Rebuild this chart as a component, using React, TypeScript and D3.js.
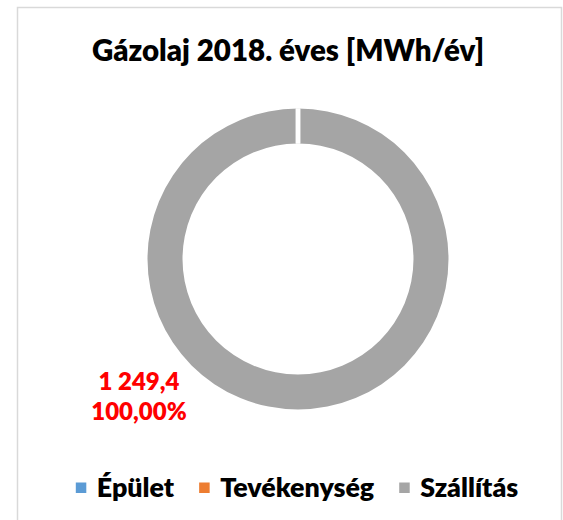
import React from "react";
import * as d3 from "d3";

const title = "Gázolaj 2018. éves [MWh/év]";
const categories = ["Épület", "Tevékenység", "Szállítás"];
const values = [0, 0, 1249.4];
const colors = ["#5b9bd5", "#ed7d31", "#a5a5a5"];
const labelValue = "1 249,4";
const labelPercent = "100,00%";

const W = 563;
const H = 520;
const FONT = "Lato, 'Noto Sans', sans-serif";
const WEIGHT = 800;

function measure(text: string, size: number): number {
  const c = document.createElement("canvas");
  const ctx = c.getContext("2d");
  if (!ctx) return text.length * size * 0.55;
  ctx.font = `${WEIGHT} ${size}px Lato`;
  return ctx.measureText(text).width;
}

export default function App() {
  const cx = 298;
  const cy = 259;
  const outerR = 150.5;
  const innerR = 115.5;

  const pie = d3.pie<number>().sort(null).value((d) => d)(values);
  const arc = d3.arc<d3.PieArcDatum<number>>().innerRadius(innerR).outerRadius(outerR);

  const legendSize = 26.8;
  const sq = 10.5;
  const gapSqText = 10.5;
  const gapItems = 25;
  const widths = categories.map((c) => measure(c, legendSize));
  const total = widths.reduce((a, w) => a + sq + gapSqText + w, 0) + gapItems * (categories.length - 1);
  let lx = 297 - total / 2;
  const legendItems = categories.map((c, i) => {
    const x = lx;
    lx += sq + gapSqText + widths[i] + gapItems;
    return { c, x, color: colors[i] };
  });

  const arcsOrdered = pie.map((p, i) => ({ p, i })).reverse();

  return (
    <svg width={W} height={H} style={{ position: "absolute", left: 0, top: 0 }} fontFamily={FONT}>
      <rect x={0} y={0} width={W} height={H} fill="#ffffff" />
      <rect x={17.5} y={7.5} width={544} height={530} fill="#ffffff" stroke="#d9d9d9" strokeWidth={1.5} />
      <text x={288} y={61} textAnchor="middle" fontSize={29.5} fontWeight={WEIGHT} fill="#000000">
        {title}
      </text>
      <g transform={`translate(${cx},${cy})`}>
        {arcsOrdered.map(({ p, i }) => (
          <path
            key={categories[i]}
            d={arc(p) || ""}
            fill={colors[i]}
            stroke={p.value === 0 ? "#ffffff" : "none"}
            strokeWidth={4.5}
          />
        ))}
      </g>
      <text x={139} y={390} textAnchor="middle" fontSize={24} fontWeight={WEIGHT} fill="#ff0000">
        {labelValue}
      </text>
      <text x={139} y={420} textAnchor="middle" fontSize={24} fontWeight={WEIGHT} fill="#ff0000">
        {labelPercent}
      </text>
      {legendItems.map((it) => (
        <g key={it.c}>
          <rect x={it.x} y={482.5} width={sq} height={sq} fill={it.color} />
          <text x={it.x + sq + gapSqText} y={497} fontSize={legendSize} fontWeight={WEIGHT} fill="#000000">
            {it.c}
          </text>
        </g>
      ))}
    </svg>
  );
}
